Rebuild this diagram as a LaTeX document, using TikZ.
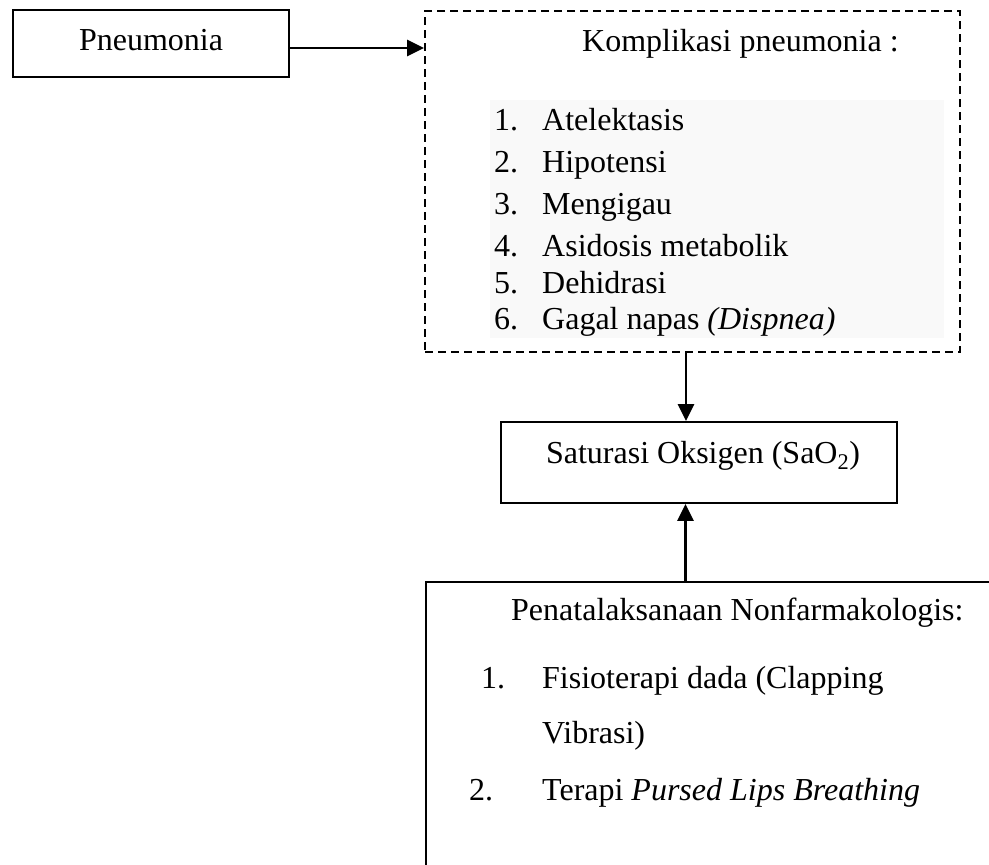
\documentclass[tikz,border=0pt]{standalone}
\usepackage{fontspec}
\setmainfont{Liberation Serif}
\usetikzlibrary{arrows.meta,calc}
\begin{document}
\begin{tikzpicture}[x=1pt,y=-1pt,
  box/.style={draw=black,line width=1.8pt,rectangle,inner sep=0pt},
  dbox/.style={draw=black,line width=1.8pt,dash pattern=on 8pt off 5pt,rectangle,inner sep=0pt},
  txt/.style={inner sep=0pt,anchor=base west,font=\fontsize{32}{36}\selectfont},
  conn/.style={line width=2.8pt,-{Triangle[length=17pt,width=16pt]}}]
\useasboundingbox (0,0) rectangle (989,865);
\clip (0,0) rectangle (989,865);
% boxes
\node[box,minimum width=276pt,minimum height=67pt] (pn) at (151,43.5) {};
\node[dbox,minimum width=535pt,minimum height=341pt] (dash) at (692.5,181.5) {};
\fill[black!2.5] (490,100) rectangle (944,338);
\node[box,minimum width=396pt,minimum height=81pt] (sat) at (699,462.5) {};
\node[box,anchor=north west,minimum width=600pt,minimum height=320pt] (pen) at (425,581) {};
% texts
\node[inner sep=0pt,anchor=base,font=\fontsize{32}{36}\selectfont] (pnt) at (151,50) {Pneumonia};
\node[txt] (kt) at (582,51) {Komplikasi pneumonia :};
\node[txt] (n1) at (494,130) {1.};
\node[txt] (i1) at (542,130) {Atelektasis};
\node[txt] (n2) at (494,172) {2.};
\node[txt] (i2) at (542,172) {Hipotensi};
\node[txt] (n3) at (494,214) {3.};
\node[txt] (i3) at (542,214) {Mengigau};
\node[txt] (n4) at (494,256) {4.};
\node[txt] (i4) at (542,256) {Asidosis metabolik};
\node[txt] (n5) at (494,293) {5.};
\node[txt] (i5) at (542,293) {Dehidrasi};
\node[txt] (n6) at (494,329) {6.};
\node[txt] (i6) at (542,329) {Gagal napas \textit{(Dispnea)}};
\node[txt,anchor=base] (satt) at (703,463) {Saturasi Oksigen (SaO\textsubscript{2})};
\node[txt] (pt) at (511,620) {Penatalaksanaan Nonfarmakologis:};
\node[txt] (m1) at (481,688) {1.};
\node[txt] (j1) at (542,688) {Fisioterapi dada (Clapping};
\node[txt] (j1b) at (542,743) {Vibrasi)};
\node[txt] (m2) at (469,800) {2.};
\node[txt] (j2) at (542,800) {Terapi \textit{Pursed Lips Breathing}};
% connectors
\draw[conn] ([yshift=-4.5pt]pn.east) -- ([yshift=-4.5pt]pn.east -| dash.west);
\draw[conn] ([xshift=-6.5pt]dash.south) -- ([xshift=-6.5pt]dash.south |- sat.north);
\draw[conn] ([xshift=-13.5pt]sat.south |- pen.north) -- ([xshift=-13.5pt]sat.south);
\end{tikzpicture}
\end{document}
